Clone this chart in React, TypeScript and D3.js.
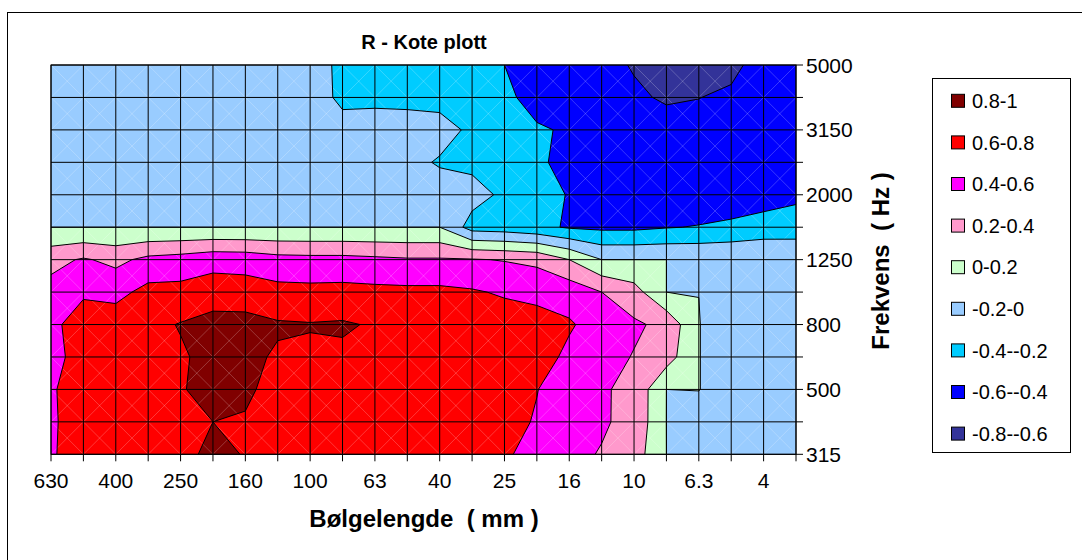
import * as d3 from "d3"

// wavelength axis (mm), left to right
const wavelengths = ["630", "500", "400", "315", "250", "200", "160", "125", "100", "80", "63", "50", "40", "31.5", "25", "20", "16", "12.5", "10", "8", "6.3", "5", "4", "3.15"]
// frequency axis (Hz), top to bottom
const frequencies = ["5000", "4000", "3150", "2500", "2000", "1600", "1250", "1000", "800", "630", "500", "400", "315"]

// R values, one row per frequency
const r5000 = [-0.1, -0.1, -0.1, -0.1, -0.1, -0.1, -0.1, -0.1, -0.13, -0.235, -0.27, -0.3, -0.33, -0.37, -0.4, -0.45, -0.5, -0.56, -0.61, -0.65, -0.66, -0.63, -0.55, -0.5]
const r4000 = [-0.1, -0.1, -0.1, -0.1, -0.1, -0.1, -0.1, -0.1, -0.13, -0.23, -0.225, -0.23, -0.235, -0.27, -0.37, -0.45, -0.5, -0.54, -0.58, -0.615, -0.602, -0.58, -0.55, -0.52]
const r3150 = [-0.1, -0.1, -0.1, -0.1, -0.1, -0.1, -0.1, -0.1, -0.1, -0.15, -0.15, -0.15, -0.16, -0.22, -0.3, -0.385, -0.415, -0.48, -0.52, -0.55, -0.56, -0.55, -0.52, -0.5]
const r2500 = [-0.1, -0.1, -0.1, -0.1, -0.1, -0.1, -0.1, -0.1, -0.1, -0.12, -0.14, -0.17, -0.21, -0.25, -0.3, -0.37, -0.455, -0.5, -0.52, -0.53, -0.53, -0.52, -0.5, -0.48]
const r2000 = [-0.08, -0.08, -0.08, -0.08, -0.08, -0.08, -0.08, -0.08, -0.08, -0.1, -0.1, -0.12, -0.15, -0.12, -0.24, -0.33, -0.41, -0.47, -0.5, -0.5, -0.53, -0.55, -0.51, -0.456]
const r1600 = [0, 0, 0, 0, 0, 0, 0, 0, 0, 0, 0, 0, 0, -0.28, -0.3, -0.35, -0.42, -0.44, -0.44, -0.41, -0.39, -0.35, -0.3, -0.27]
const r1250 = [0.34, 0.42, 0.35, 0.45, 0.48, 0.53, 0.52, 0.47, 0.46, 0.46, 0.44, 0.42, 0.42, 0.413, 0.39, 0.36, 0.2, 0, 0, 0, -0.01, -0.02, -0.03, -0.08]
const r1000 = [0.47, 0.565, 0.54, 0.66, 0.66, 0.7, 0.69, 0.66, 0.654, 0.66, 0.65, 0.645, 0.645, 0.62, 0.577, 0.53, 0.52, 0.4, 0.28, 0, -0.001, -0.1, -0.1, -0.1]
const r800 = [0.54, 0.72, 0.71, 0.75, 0.81, 0.87, 0.87, 0.82, 0.81, 0.82, 0.783, 0.74, 0.73, 0.7, 0.7, 0.7, 0.62, 0.52, 0.43, 0.35, 0.005, -0.1, -0.1, -0.1]
const r630 = [0.56, 0.65, 0.72, 0.76, 0.78, 0.85, 0.84, 0.78, 0.77, 0.77, 0.75, 0.73, 0.72, 0.71, 0.7, 0.68, 0.56, 0.47, 0.39, 0.29, 0.005, -0.1, -0.1, -0.1]
const r500 = [0.58, 0.69, 0.72, 0.76, 0.78, 0.89, 0.82, 0.76, 0.74, 0.74, 0.73, 0.72, 0.72, 0.7, 0.68, 0.605, 0.5, 0.42, 0.353, 0, 0.005, -0.1, -0.1, -0.1]
const r400 = [0.58, 0.67, 0.7, 0.74, 0.75, 0.8, 0.79, 0.74, 0.74, 0.73, 0.72, 0.72, 0.71, 0.69, 0.66, 0.585, 0.5, 0.42, 0.35, -0.001, -0.1, -0.1, -0.1, -0.1]
const r315 = [0.58, 0.69, 0.7, 0.72, 0.74, 0.85, 0.79, 0.74, 0.73, 0.72, 0.72, 0.71, 0.71, 0.68, 0.63, 0.52, 0.44, 0.39, 0.3, 0, -0.1, -0.1, -0.1, -0.1]

const grid = [r5000, r4000, r3150, r2500, r2000, r1600, r1250, r1000, r800, r630, r500, r400, r315]

// contour levels and the colour of the band above each
const thresholds = [-0.6, -0.4, -0.2, 0, 0.2, 0.4, 0.6, 0.8]
const bandColors = ["#0000FF", "#00CCFF", "#99CCFF", "#CCFFCC", "#FF99CC", "#FF00FF", "#FF0000", "#800000"]
const baseColor = "#333399"

// legend, top to bottom
const legendLabels = ["0.8-1", "0.6-0.8", "0.4-0.6", "0.2-0.4", "0-0.2", "-0.2-0", "-0.4--0.2", "-0.6--0.4", "-0.8--0.6"]
const legendColors = ["#800000", "#FF0000", "#FF00FF", "#FF99CC", "#CCFFCC", "#99CCFF", "#00CCFF", "#0000FF", "#333399"]

const font = "'Liberation Sans', Arial, Helvetica, sans-serif"

export default function App() {
  const width = 1082
  const height = 560
  const plot = { left: 51, right: 796, top: 65, bottom: 454.3 }

  const nx = wavelengths.length
  const ny = frequencies.length

  const x = d3.scalePoint<string>().domain(wavelengths).range([plot.left, plot.right])
  const y = d3.scalePoint<string>().domain(frequencies).range([plot.top, plot.bottom])
  // contour grid coords -> pixels (sample i sits at i + 0.5)
  const gx = d3.scaleLinear().domain([0.5, nx - 0.5]).range([plot.left, plot.right])
  const gy = d3.scaleLinear().domain([0.5, ny - 0.5]).range([plot.top, plot.bottom])

  const contours = d3.contours().size([nx, ny]).thresholds(thresholds)(grid.flat())

  const toPath = (mp: any) =>
    mp.coordinates
      .map((poly: number[][][]) =>
        poly
          .map((ring) => "M" + ring.map(([cx, cy]) => `${gx(cx).toFixed(2)},${gy(cy).toFixed(2)}`).join("L") + "Z")
          .join("")
      )
      .join("")

  const paths = contours.map((c, i) => ({ d: toPath(c), color: bandColors[i] }))

  const cells: [number, number][] = []
  for (let j = 0; j < ny - 1; j++) for (let i = 0; i < nx - 1; i++) cells.push([i, j])

  const legend = { x: 932, y: 78, w: 138, h: 374, first: 100.8, step: 41.6 }

  return (
    <svg width={width} height={height} style={{ position: "fixed", left: 0, top: 0, background: "#fff" }} fontFamily={font}>
      <rect x={0} y={0} width={width} height={height} fill="#fff" />
      <rect x={7.5} y={12.5} width={1100} height={600} fill="none" stroke="#000" strokeWidth={1} />

      <defs>
        <clipPath id="plot-clip">
          <rect x={plot.left} y={plot.top} width={plot.right - plot.left} height={plot.bottom - plot.top} />
        </clipPath>
      </defs>

      <g clipPath="url(#plot-clip)">
        <rect x={plot.left} y={plot.top} width={plot.right - plot.left} height={plot.bottom - plot.top} fill={baseColor} />
        {paths.map((p, i) => (
          <path key={"f" + i} d={p.d} fill={p.color} fillRule="evenodd" stroke="none" />
        ))}
        {cells.map(([i, j]) => (
          <g key={"d" + i + "-" + j} stroke="#fff" strokeOpacity={0.28} strokeWidth={0.8}>
            <line x1={x(wavelengths[i])} y1={y(frequencies[j])} x2={x(wavelengths[i + 1])} y2={y(frequencies[j + 1])} />
            <line x1={x(wavelengths[i + 1])} y1={y(frequencies[j])} x2={x(wavelengths[i])} y2={y(frequencies[j + 1])} />
          </g>
        ))}
        {paths.map((p, i) => (
          <path key={"s" + i} d={p.d} fill="none" stroke="#000" strokeWidth={1} strokeLinejoin="round" />
        ))}
      </g>

      {/* grid */}
      <g stroke="#000" strokeWidth={1}>
        {wavelengths.map((w) => (
          <line key={"gx" + w} x1={x(w)} x2={x(w)} y1={plot.top} y2={plot.bottom} />
        ))}
        {frequencies.map((f) => (
          <line key={"gy" + f} x1={plot.left} x2={plot.right} y1={y(f)} y2={y(f)} />
        ))}
        {wavelengths.map((w) => (
          <line key={"tx" + w} x1={x(w)} x2={x(w)} y1={plot.bottom} y2={plot.bottom + 7} />
        ))}
        {frequencies.map((f) => (
          <line key={"ty" + f} x1={plot.right} x2={plot.right + 7} y1={y(f)} y2={y(f)} />
        ))}
      </g>
      <rect x={plot.left} y={plot.top} width={plot.right - plot.left} height={plot.bottom - plot.top} fill="none" stroke="#000" strokeWidth={1} />

      {/* tick labels */}
      <g fontSize={21} fill="#000">
        {wavelengths.map((w, i) =>
          i % 2 === 0 ? (
            <text key={"lx" + w} x={x(w)} y={488} textAnchor="middle">
              {w}
            </text>
          ) : null
        )}
        {frequencies.map((f, j) =>
          j % 2 === 0 ? (
            <text key={"ly" + f} x={806} y={y(f)} dy="0.36em">
              {f}
            </text>
          ) : null
        )}
      </g>

      <text x={424} y={49} textAnchor="middle" fontSize={20} fontWeight="bold">
        R - Kote plott
      </text>
      <text x={424} y={527} textAnchor="middle" fontSize={24} fontWeight="bold" style={{ whiteSpace: "pre" }}>
        {"Bølgelengde  ( mm )"}
      </text>
      <text
        transform="translate(889,261) rotate(-90)"
        textAnchor="middle"
        fontSize={24}
        fontWeight="bold"
        style={{ whiteSpace: "pre" }}
      >
        {"Frekvens  ( Hz )"}
      </text>

      {/* legend */}
      <rect x={legend.x + 0.5} y={legend.y + 0.5} width={legend.w} height={legend.h} fill="#fff" stroke="#000" strokeWidth={1} />
      {legendLabels.map((label, k) => {
        const cy = legend.first + k * legend.step
        return (
          <g key={"lg" + k}>
            <rect x={951.5} y={cy - 6.5} width={13} height={13} fill={legendColors[k]} stroke="#000" strokeWidth={1} />
            <text x={972} y={cy} dy="0.36em" fontSize={20}>
              {label}
            </text>
          </g>
        )
      })}
    </svg>
  )
}
